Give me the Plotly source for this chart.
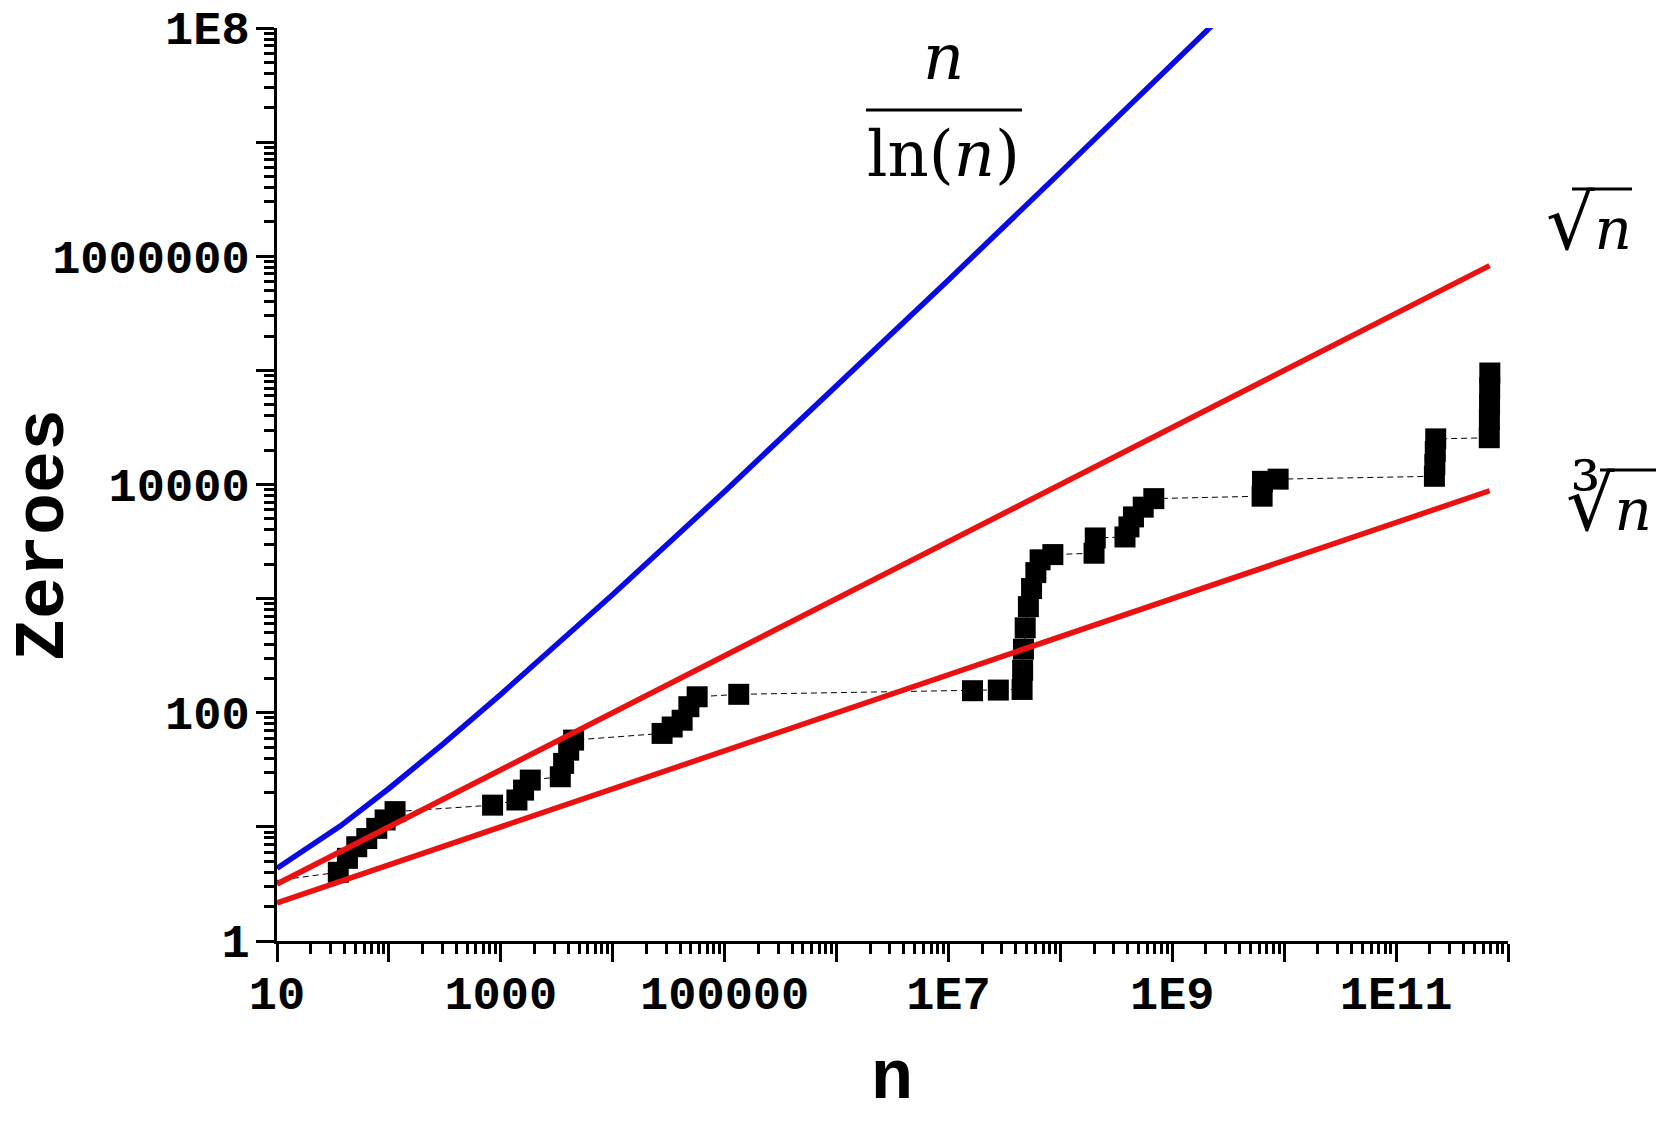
import plotly.graph_objects as go

# ---------------- data ----------------
n_vals = [5, 35.3, 42.6, 51.6, 63.4, 77.9, 92.5, 113.5,
          844, 1393, 1597, 1833,
          3400, 3640, 4040, 4470,
          27600, 34000, 41700, 47900, 56800,
          133600, 1.64e7, 2.79e7,
          4.55e7, 4.6e7, 4.68e7, 4.85e7, 5.18e7, 5.53e7, 6.04e7, 6.59e7, 8.57e7,
          2.0e8, 2.05e8,
          3.78e8, 4.1e8, 4.5e8, 5.5e8, 6.84e8,
          6.35e9, 6.4e9, 8.83e9,
          2.2e11, 2.22e11, 2.24e11, 2.26e11,
          6.8e11, 6.82e11, 6.84e11, 6.86e11, 6.88e11]
zero_counts = [3.1, 4.0, 5.3, 6.7, 7.9, 9.7, 11.5, 13.6,
               15.5, 17.2, 21, 25.7,
               27.5, 36, 47, 57.6,
               65.9, 75, 86, 113, 138,
               145, 156, 158,
               160, 236, 361, 555, 851, 1225, 1690, 2188, 2432,
               2500, 3400,
               3470, 4250, 5200, 6330, 7520,
               7900, 10660, 11140,
               11800, 15000, 19500, 25100,
               25700, 37000, 50000, 70000, 94800]

# n / ln(n) curve
blue_n = [10, 37, 100, 300, 1000, 3000, 1e4, 1e5, 1e6, 1e7, 1e8, 1e9, 3e9]
blue_z = [4.34, 10.2, 21.7, 52.6, 145, 375, 1086, 8690, 72400, 620000, 5.43e6, 4.83e7, 1.37e8]
# sqrt(n) line
sqrt_n = [10, 6.85e11]
sqrt_z = [3.162, 827600]
# cube root line
cbrt_n = [10, 6.85e11]
cbrt_z = [2.154, 8815]

x_tickvals = [10 ** k for k in range(1, 13)]
x_ticktext = ["10", "", "1000", "", "100000", "", "1E7", "", "1E9", "", "1E11", ""]
y_tickvals = [10 ** k for k in range(0, 9)]
y_ticktext = ["1", "", "100", "", "10000", "", "1000000", "", "1E8"]

# ---------------- layout geometry ----------------
W, H = 1665, 1121
L, R, T, B = 277, 157, 28, 180
PW, PH = W - L - R, H - T - B


def px(X):
    return (X - L) / PW


def py(Y):
    return (T + PH - Y) / PH


fig = go.Figure()
fig.add_trace(go.Scatter(
    x=n_vals, y=zero_counts, mode="lines+markers",
    line=dict(color="black", width=1, dash="6px,4px"),
    marker=dict(symbol="square", size=21, color="black", line=dict(width=0)),
    showlegend=False))
fig.add_trace(go.Scatter(x=blue_n, y=blue_z, mode="lines",
                         line=dict(color="#0a0ae6", width=5.5), showlegend=False))
fig.add_trace(go.Scatter(x=sqrt_n, y=sqrt_z, mode="lines",
                         line=dict(color="#ec1111", width=5.5), showlegend=False))
fig.add_trace(go.Scatter(x=cbrt_n, y=cbrt_z, mode="lines",
                         line=dict(color="#ec1111", width=5.5), showlegend=False))

tickfont = dict(family="Liberation Mono", size=47, color="black", weight="bold")
common = dict(type="log", showline=True, linecolor="black", linewidth=3,
              ticks="outside", ticklen=18, tickwidth=3, tickcolor="black",
              showgrid=False, zeroline=False, mirror=False, automargin=False,
              tickmode="array", tickfont=tickfont)

x_minor = [m * 10 ** k for k in range(1, 12) for m in range(2, 10)]
y_minor = [m * 10 ** k for k in range(0, 8) for m in range(2, 10)]

fig.update_xaxes(range=[1, 12], tickvals=x_tickvals, ticktext=x_ticktext,
                 minor=dict(ticks="outside", ticklen=10, tickwidth=2.5,
                            tickcolor="black", tickvals=x_minor),
                 ticklabelstandoff=-9, **common)
fig.update_yaxes(range=[0, 8], tickvals=y_tickvals, ticktext=y_ticktext,
                 minor=dict(ticks="outside", ticklen=10, tickwidth=2.5,
                            tickcolor="black", tickvals=y_minor),
                 ticklabelstandoff=-3, **common)

serif = "DejaVu Serif"
fracfont = dict(family=serif, size=64, color="black")
rootfont = dict(family=serif, size=58, color="black")
titlefont = dict(family="Liberation Mono", size=70, color="black", weight="bold")

annotations = [
    # n / ln(n)
    dict(text="<i>n</i>", x=px(943), y=py(57), font=fracfont),
    dict(text="ln(<i>n</i>)", x=px(943), y=py(154), font=fracfont),
    # square root
    dict(text="<span style='font-size:76px'>√</span><i>n</i>",
         x=px(1544), y=py(222), xanchor="left", font=rootfont),
    # cube root
    dict(text="<span style='font-size:76px'>∛</span><i>n</i>",
         x=px(1564), y=py(503), xanchor="left", font=rootfont),
    # axis titles
    dict(text="Zeroes", x=px(44), y=py(535), textangle=-90, font=titlefont),
    dict(text="n", x=px(892), y=py(1121), yanchor="bottom", font=titlefont),
]
for a in annotations:
    a.update(xref="paper", yref="paper", showarrow=False)
    a.setdefault("xanchor", "center")
    a.setdefault("yanchor", "middle")

bar = dict(color="black", width=3)
shapes = [
    dict(type="line", xref="paper", yref="paper", x0=px(866), x1=px(1022),
         y0=py(110), y1=py(110), line=bar),
    dict(type="line", xref="paper", yref="paper", x0=px(1572), x1=px(1632),
         y0=py(189), y1=py(189), line=bar),
    dict(type="line", xref="paper", yref="paper", x0=px(1600), x1=px(1656),
         y0=py(470), y1=py(470), line=bar),
]

fig.update_layout(width=W, height=H, autosize=False,
                  margin=dict(l=L, r=R, t=T, b=B),
                  paper_bgcolor="white", plot_bgcolor="white",
                  annotations=annotations, shapes=shapes, showlegend=False)

fig.write_html("out.html")
